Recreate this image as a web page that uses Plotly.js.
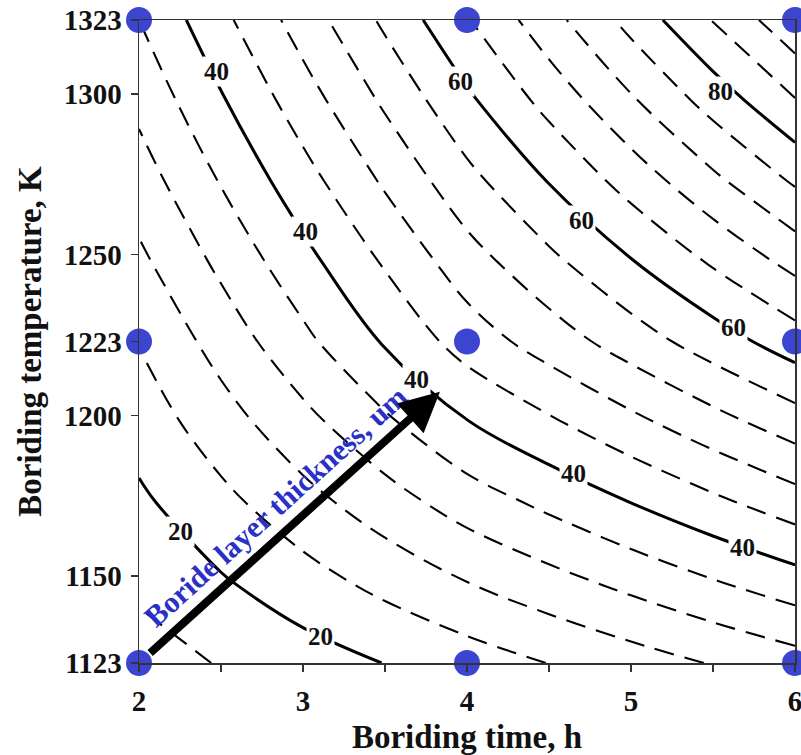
<!DOCTYPE html>
<html>
<head>
<meta charset="utf-8">
<script src="https://cdn.plot.ly/plotly-3.0.1.min.js"></script>
<style>html,body{margin:0;padding:0;background:#fff;}#chart{width:801px;height:755px;}</style>
</head>
<body>
<div id="chart"></div>
<script>
// Boriding time (h) and temperature (K) grid
const timeH = [2, 2.5, 3, 3.5, 4, 4.5, 5, 5.5, 6];
const tempK = [1123, 1148, 1173, 1198, 1223, 1248, 1273, 1298, 1323];

// Boride layer thickness (um), one row per temperature
const thick1123 = [14.3, 16.23, 18.15, 20.08, 22.0, 24.08, 26.15, 28.23, 30.3];
const thick1148 = [16.78, 19.57, 22.36, 25.16, 27.95, 30.53, 33.1, 35.68, 38.25];
const thick1173 = [19.25, 22.91, 26.58, 30.24, 33.9, 36.98, 40.05, 43.13, 46.2];
const thick1198 = [21.73, 26.26, 30.79, 35.32, 39.85, 43.43, 47.0, 50.58, 54.15];
const thick1223 = [24.2, 29.6, 35.0, 40.4, 45.8, 49.88, 53.95, 58.03, 62.1];
const thick1248 = [27.15, 32.93, 38.71, 44.49, 50.28, 55.04, 59.8, 64.56, 69.33];
const thick1273 = [30.1, 36.26, 42.43, 48.59, 54.75, 60.2, 65.65, 71.1, 76.55];
const thick1298 = [33.05, 39.59, 46.14, 52.68, 59.23, 65.36, 71.5, 77.64, 83.78];
const thick1323 = [36.0, 42.93, 49.85, 56.78, 63.7, 70.53, 77.35, 84.18, 91.0];

// Experimental points (dots)
const expTime = [2, 4, 6, 2, 4, 6, 2, 4, 6];
const expTemp = [1123, 1123, 1123, 1223, 1223, 1223, 1323, 1323, 1323];

// Ticks
const xTickVals = [2, 2.5, 3, 3.5, 4, 4.5, 5, 5.5, 6];
const xTickText = ['2', '', '3', '', '4', '', '5', '', '6'];
const yTickVals = [1123, 1150, 1200, 1223, 1250, 1300, 1323];
const yTickText = ['1123', '1150', '1200', '1223', '1250', '1300', '1323'];

// Contour levels
const majorLevels = [20, 40, 60, 80];
const minorGroups = [[16, 16], [24, 36], [44, 56], [64, 76], [84, 88]];

const zGrid = [thick1123, thick1148, thick1173, thick1198, thick1223,
               thick1248, thick1273, thick1298, thick1323];

const FONT = 'Liberation Serif, Times New Roman, serif';

// ---- layout-only placement of the contour labels (position, level index) ----
const labelSpots = [
  [2.470, 1307.0, 1], [3.018, 1257.2, 1], [3.689, 1211.1, 1], [4.652, 1181.9, 1], [5.677, 1158.8, 1],
  [3.963, 1303.9, 2], [4.701, 1260.6, 2], [5.622, 1227.3, 2],
  [5.543, 1300.7, 3],
  [2.250, 1163.8, 0], [3.104, 1131.1, 0]
];

const traces = [];

minorGroups.forEach(g => {
  traces.push({
    type: 'contour', x: timeH, y: tempK, z: zGrid,
    contours: {start: g[0], end: g[1], size: 4, coloring: 'none', showlabels: false},
    line: {color: 'black', width: 2.1, dash: '20px,11px', smoothing: 1},
    showscale: false, hoverinfo: 'skip'
  });
});

traces.push({
  type: 'contour', x: timeH, y: tempK, z: zGrid,
  contours: {start: majorLevels[0], end: majorLevels[majorLevels.length - 1],
             size: majorLevels[1] - majorLevels[0], coloring: 'none', showlabels: false},
  line: {color: 'black', width: 3, smoothing: 1},
  showscale: false, hoverinfo: 'skip'
});

traces.push({
  type: 'scatter', mode: 'markers', x: expTime, y: expTemp,
  marker: {size: 26, color: '#3b45cf'},
  cliponaxis: false, hoverinfo: 'skip', showlegend: false
});

const axisCommon = {
  showgrid: false, zeroline: false, showline: true, mirror: true,
  linecolor: '#333', linewidth: 1.5,
  ticks: 'outside', ticklen: 7, tickwidth: 1.5, tickcolor: '#333',
  tickfont: {family: FONT, size: 29, color: '#111', weight: 'bold'},
  automargin: false
};

const annotations = [];
labelSpots.forEach(s => {
  annotations.push({
    x: s[0], y: s[1], xref: 'x', yref: 'y', showarrow: false,
    text: String(majorLevels[s[2]]), xanchor: 'center', yanchor: 'middle',
    bgcolor: 'white', borderpad: 1,
    font: {family: FONT, size: 25, color: '#111', weight: 'bold'}
  });
});
annotations.push({
  x: 2.832, y: 1171.7, xref: 'x', yref: 'y', showarrow: false,
  text: 'Boride layer thickness, um', textangle: -42.1,
  xanchor: 'center', yanchor: 'middle',
  font: {family: FONT, size: 30, color: '#2b30c6', weight: 'bold'}
});
annotations.push({
  x: 3.835, y: 1207.4, ax: 2, ay: 1123, xref: 'x', yref: 'y', axref: 'x', ayref: 'y',
  showarrow: true, arrowhead: 2, arrowsize: 1, arrowwidth: 8, arrowcolor: 'black',
  text: '', startstandoff: 13
});

const layout = {
  width: 801, height: 755,
  margin: {l: 139, r: 6, t: 20, b: 92},
  paper_bgcolor: '#fff', plot_bgcolor: '#fff',
  showlegend: false,
  font: {family: FONT, color: '#111'},
  xaxis: Object.assign({}, axisCommon, {
    range: [2, 6], tickmode: 'array', tickvals: xTickVals, ticktext: xTickText,
    ticklabeloverflow: 'allow', ticklabelstandoff: 5,
    title: {text: 'Boriding time, h', font: {family: FONT, size: 33, color: '#111', weight: 'bold'}, standoff: 8}
  }),
  yaxis: Object.assign({}, axisCommon, {
    range: [1123, 1323], tickmode: 'array', tickvals: yTickVals, ticktext: yTickText,
    ticklabelstandoff: 3,
    title: {text: 'Boriding temperature, K', font: {family: FONT, size: 33, color: '#111', weight: 'bold'}, standoff: 12}
  }),
  annotations: annotations
};

Plotly.newPlot('chart', traces, layout, {staticPlot: true, displayModeBar: false});
</script>
</body>
</html>
